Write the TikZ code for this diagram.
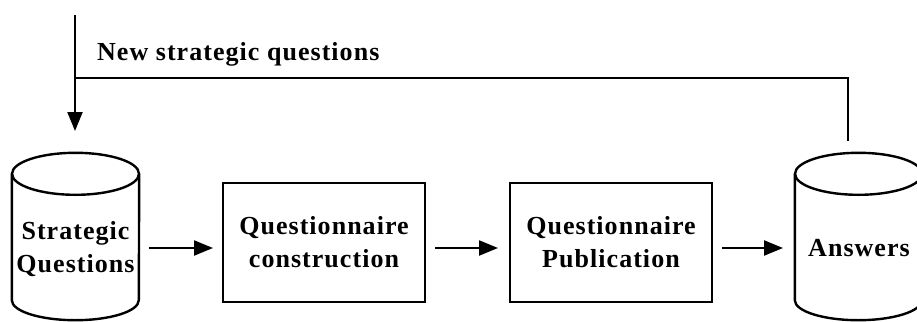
\documentclass[tikz,border=0pt]{standalone}
\usepackage{fontspec}
\setmainfont{Liberation Serif}[LetterSpace=4]
\usetikzlibrary{arrows.meta}
\begin{document}
\begin{tikzpicture}[x=1pt,y=-1pt,
  line/.style={line width=2.2pt},
  arr/.style={line width=2.2pt,-{Triangle[length=19pt,width=15pt]}},
  boxnode/.style={draw,line width=2.4pt,minimum width=202pt,minimum height=119pt,inner sep=0pt},
  cylbody/.style={minimum width=127pt,minimum height=126pt,inner sep=0pt},
  lbl/.style={font=\fontsize{26}{33}\selectfont\bfseries,align=center,inner sep=0pt},
  cylline/.style={line width=2.4pt}]
\useasboundingbox (0,0) rectangle (917,321);
\clip (0,0) rectangle (917,321);
\fill[white] (0,0) rectangle (917,321);
% left cylinder
\node[cylbody] (sq) at (75.5,237) {};
\draw[cylline] (sq.north west) -- (sq.south west)
  arc[start angle=180,end angle=360,x radius=63.5pt,y radius=20pt] -- (sq.north east);
\draw[cylline] (sq.north) ellipse[x radius=63.5pt,y radius=21pt];
\node[lbl] (sqt) at (75.5,249) {Strategic\\Questions};
% boxes
\node[boxnode,lbl] (qc) at (324,242.5) {Questionnaire\\construction};
\node[boxnode,lbl] (qp) at (611,242.5) {Questionnaire\\Publication};
% right cylinder
\node[cylbody] (an) at (858.5,237) {};
\draw[cylline] (an.north west) -- (an.south west)
  arc[start angle=180,end angle=360,x radius=63.5pt,y radius=20pt] -- (an.north east);
\draw[cylline] (an.north) ellipse[x radius=63.5pt,y radius=21pt];
\node[lbl] (ant) at (859,248) {Answers};
% arrows
\coordinate (a1s) at (149,248);
\coordinate (a1e) at (213,248);
\draw[arr] (a1s) -- (a1e);
\coordinate (a2s) at (435,248);
\coordinate (a2e) at (498,248);
\draw[arr] (a2s) -- (a2e);
\coordinate (a3s) at (722,248);
\coordinate (a3e) at (783,248);
\draw[arr] (a3s) -- (a3e);
% feedback
\coordinate (top) at (75,15);
\coordinate (tip) at (75,131);
\coordinate (corner) at (848,78);
\coordinate (fromans) at (848,141);
\coordinate (join) at (75,78);
\draw[arr] (top) -- (tip);
\draw[line] (fromans) -- (corner) -- (join);
\node[lbl,anchor=base west] (nsq) at (97,60) {New strategic questions};
\end{tikzpicture}
\end{document}
